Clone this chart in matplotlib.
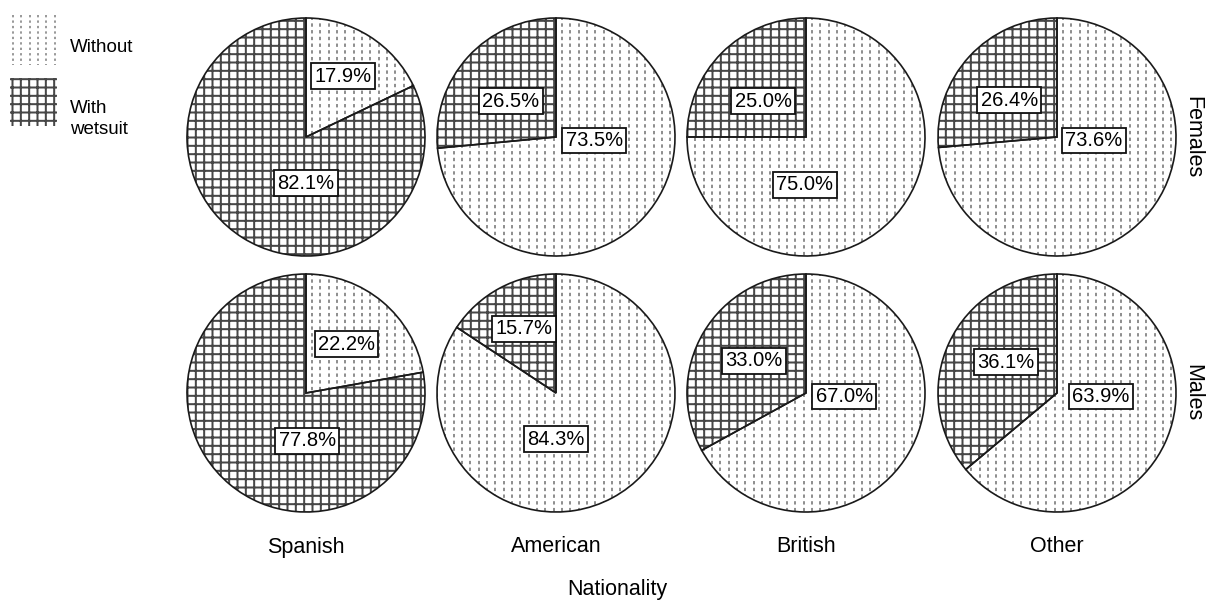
import matplotlib
matplotlib.use('Agg')
import matplotlib.pyplot as plt
import numpy as np
from matplotlib.patches import Rectangle
from matplotlib.collections import LineCollection

plt.rcParams['font.family'] = ['Liberation Sans', 'DejaVu Sans']
plt.rcParams['hatch.linewidth'] = 1.45

# ---------------- data ----------------
nationalities = ['Spanish', 'American', 'British', 'Other']
sexes = ['Females', 'Males']
legend_labels = ['Without', 'With\nwetsuit']
females_without = [17.9, 73.5, 75.0, 73.6]
females_with = [82.1, 26.5, 25.0, 26.4]
males_without = [22.2, 84.3, 67.0, 63.9]
males_with = [77.8, 15.7, 33.0, 36.1]
x_title = 'Nationality'

# ---------------- layout (label offsets in pie-radius units: without, with) ----------------
label_offsets = {
    'Females': [((0.31, 0.51), (0.00, -0.39)),
                ((0.32, -0.03), (-0.38, 0.30)),
                ((-0.01, -0.40), (-0.36, 0.30)),
                ((0.31, -0.03), (-0.40, 0.31))],
    'Males': [((0.34, 0.41), (0.01, -0.40)),
              ((0.00, -0.39), (-0.27, 0.54)),
              ((0.32, -0.03), (-0.44, 0.27)),
              ((0.37, -0.03), (-0.43, 0.26))],
}

W, H = 1207, 600
R = 119
col_cx = [306, 556, 806, 1057]
row_cy = [137, 393]
LIM = 1.06
S = 2 * LIM * R

GRID_COLOR = '#474747'
DASH_COLOR = '#6f6f6f'
FS = 15.5
PCT_FS = 14.5

fig = plt.figure(figsize=(W / 100, H / 100), dpi=100)

# overlay axes in pixel coordinates for legend and titles
ov = fig.add_axes([0, 0, 1, 1])
ov.set_xlim(0, W)
ov.set_ylim(H, 0)
ov.axis('off')


def dashed_texture(ax, clip, x0, x1, y0, y1, step):
    xs = np.arange(x0, x1 + 1e-9, step)
    segs = [[(x, y0), (x, y1)] for x in xs]
    lc = LineCollection(segs, colors=DASH_COLOR, linewidths=1.1,
                        linestyles=[(0, (2.2, 2.2))], zorder=2)
    ax.add_collection(lc)
    lc.set_clip_path(clip)
    return lc


data = {'Females': (females_without, females_with),
        'Males': (males_without, males_with)}

for r, sex in enumerate(sexes):
    wo, wi = data[sex]
    for c, nat in enumerate(nationalities):
        cx, cy = col_cx[c], row_cy[r]
        ax = fig.add_axes([(cx - S / 2) / W, (H - cy - S / 2) / H, S / W, S / H])
        ax.set_xlim(-LIM, LIM)
        ax.set_ylim(-LIM, LIM)
        ax.set_aspect('equal')
        ax.axis('off')
        vals = [wo[c], wi[c]]
        # fill layer
        wedges, _ = ax.pie(vals, startangle=90, counterclock=False, radius=1,
                           colors=['white', 'white'],
                           wedgeprops=dict(linewidth=0))
        wedges[1].set_edgecolor(GRID_COLOR)
        wedges[1].set_hatch('++')
        wedges[1].set_linewidth(0)
        wedges[0].set_edgecolor('none')
        dashed_texture(ax, wedges[0], -1.0, 1.0, -1.05, 1.05, 8.33 / R)
        # outline layer
        outl, _ = ax.pie(vals, startangle=90, counterclock=False, radius=1,
                         colors=['none', 'none'],
                         wedgeprops=dict(edgecolor='#1a1a1a', linewidth=1.2))
        for w in outl:
            w.set_zorder(3)
        ax.set_xlim(-LIM, LIM)
        ax.set_ylim(-LIM, LIM)
        # labels
        offs = label_offsets[sex][c]
        for k in range(2):
            dx, dy = offs[k]
            ax.text(dx, dy, f'{vals[k]:.1f}%', ha='center', va='center',
                    fontsize=PCT_FS, zorder=5,
                    bbox=dict(boxstyle='square,pad=0.17', fc='white',
                              ec='#111111', lw=1.3))

# column labels
for c, nat in enumerate(nationalities):
    ov.text(col_cx[c], 547, nat, ha='center', va='center', fontsize=FS)
ov.text(617, 590, x_title, ha='center', va='center', fontsize=FS)
# row labels
for r, sex in enumerate(sexes):
    ov.text(1193, row_cy[r], sex, ha='center', va='center', fontsize=FS,
            rotation=-90)

# legend (manual)
leg_fs = 13.5
rect1 = Rectangle((10, 15), 46, 50, facecolor='white', edgecolor='none')
ov.add_patch(rect1)
lc = LineCollection([[(x, 15), (x, 65)] for x in np.arange(13, 56, 8.33)],
                    colors='#999999', linewidths=1.4,
                    linestyles=[(0, (1.2, 1.6))])
ov.add_collection(lc)
lc.set_clip_path(rect1)
rect2 = Rectangle((10, 78), 47, 48, facecolor='white', edgecolor=GRID_COLOR,
                  linewidth=0, hatch='++')
ov.add_patch(rect2)
ov.text(70, 47, legend_labels[0], ha='left', va='center', fontsize=leg_fs)
ov.text(70, 119, legend_labels[1], ha='left', va='center', fontsize=leg_fs,
        linespacing=1.3)

fig.savefig('out.png', dpi=100, facecolor='white')
